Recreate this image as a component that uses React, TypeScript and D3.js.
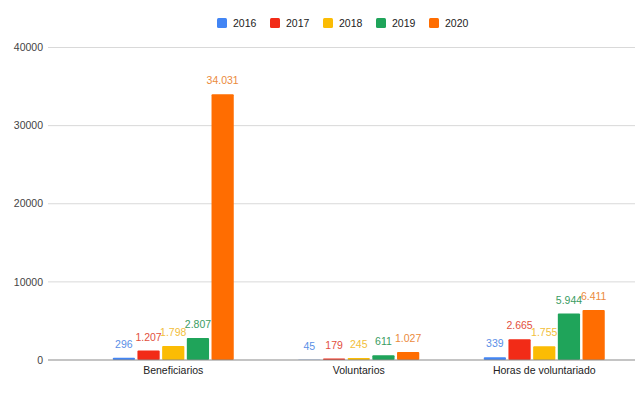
import { useEffect, useRef } from "react";
import * as d3 from "d3";

const categories = ["Beneficiarios", "Voluntarios", "Horas de voluntariado"];
const years = ["2016", "2017", "2018", "2019", "2020"];
const colors = ["#4285f4", "#f22b17", "#fbbc04", "#1fa45a", "#ff6d01"];
const labelColors = ["#5a8fe6", "#e2503e", "#f2be3a", "#3a9c62", "#eb8a3c"];

// one array per year, in category order
const values2016 = [296, 45, 339];
const values2017 = [1207, 179, 2665];
const values2018 = [1798, 245, 1755];
const values2019 = [2807, 611, 5944];
const values2020 = [34031, 1027, 6411];
const series = [values2016, values2017, values2018, values2019, values2020];

const yTicks = [0, 10000, 20000, 30000, 40000];

// labels use a dot as thousands separator (es locale)
const fmt = (v: number) => d3.format(",")(v).replace(/,/g, ".");

const App = () => {
  const ref = useRef<SVGSVGElement>(null);

  useEffect(() => {
    const width = 635;
    const height = 393;
    const font = "'Liberation Sans', Arial, sans-serif";

    const svg = d3.select(ref.current);
    svg.selectAll("*").remove();
    svg.attr("width", width).attr("height", height);

    svg.append("rect").attr("width", width).attr("height", height).attr("fill", "#fff");

    const y = d3.scaleLinear().domain([0, 40000]).range([360, 47.5]);
    const x0 = d3.scaleBand().domain(categories).range([80.5, 637]);
    const x1 = d3.scaleBand().domain(years).range([-60.5, 60.5]).paddingInner(0.1);

    // gridlines
    svg
      .append("g")
      .selectAll("line")
      .data(yTicks.filter((t) => t !== 0))
      .enter()
      .append("line")
      .attr("x1", 48)
      .attr("x2", width)
      .attr("y1", (d) => y(d))
      .attr("y2", (d) => y(d))
      .attr("stroke", "#d9d9d9")
      .attr("stroke-width", 1);

    // y labels
    svg
      .append("g")
      .selectAll("text")
      .data(yTicks)
      .enter()
      .append("text")
      .attr("x", 43)
      .attr("y", (d) => y(d))
      .attr("dy", "0.35em")
      .attr("text-anchor", "end")
      .attr("font-family", font)
      .attr("font-size", 10.5)
      .attr("fill", "#444")
      .text((d) => d);

    // bars
    const groups = svg
      .append("g")
      .selectAll("g")
      .data(categories)
      .enter()
      .append("g")
      .attr("transform", (d) => `translate(${x0(d)! + x0.bandwidth() / 2},0)`);

    groups
      .selectAll("rect")
      .data((_, ci) => years.map((yr, si) => ({ yr, si, v: series[si][ci] })))
      .enter()
      .append("rect")
      .attr("x", (d) => x1(d.yr)!)
      .attr("width", x1.bandwidth())
      .attr("y", (d) => y(d.v))
      .attr("height", (d) => y(0) - y(d.v))
      .attr("rx", 1)
      .attr("fill", (d) => colors[d.si]);

    groups
      .selectAll("text")
      .data((_, ci) => years.map((yr, si) => ({ yr, si, v: series[si][ci] })))
      .enter()
      .append("text")
      .attr("x", (d) => x1(d.yr)! + x1.bandwidth() / 2)
      .attr("y", (d) => y(d.v) - 10)
      .attr("text-anchor", "middle")
      .attr("font-family", font)
      .attr("font-size", 10.5)
      .attr("fill", (d) => labelColors[d.si])
      .text((d) => fmt(d.v));

    // zero line
    svg
      .append("line")
      .attr("x1", 48)
      .attr("x2", width)
      .attr("y1", y(0))
      .attr("y2", y(0))
      .attr("stroke", "#8a8a8a")
      .attr("stroke-width", 1.2);

    // category labels
    svg
      .append("g")
      .selectAll("text")
      .data(categories)
      .enter()
      .append("text")
      .attr("x", (d) => x0(d)! + x0.bandwidth() / 2)
      .attr("y", 374)
      .attr("text-anchor", "middle")
      .attr("font-family", font)
      .attr("font-size", 10.5)
      .attr("fill", "#222")
      .text((d) => d);

    // legend
    const legend = svg
      .append("g")
      .selectAll("g")
      .data(years)
      .enter()
      .append("g")
      .attr("transform", (_, i) => `translate(${217 + i * 53},0)`);

    legend
      .append("rect")
      .attr("x", 0)
      .attr("y", 18)
      .attr("width", 10)
      .attr("height", 10)
      .attr("rx", 1.5)
      .attr("fill", (_, i) => colors[i]);

    legend
      .append("text")
      .attr("x", 16)
      .attr("y", 23)
      .attr("dy", "0.35em")
      .attr("font-family", font)
      .attr("font-size", 10.5)
      .attr("fill", "#222")
      .text((d) => d);
  }, []);

  return (
    <div>
      <style>{`body{margin:0}`}</style>
      <svg ref={ref} style={{ display: "block" }}></svg>
    </div>
  );
};

export default App;
